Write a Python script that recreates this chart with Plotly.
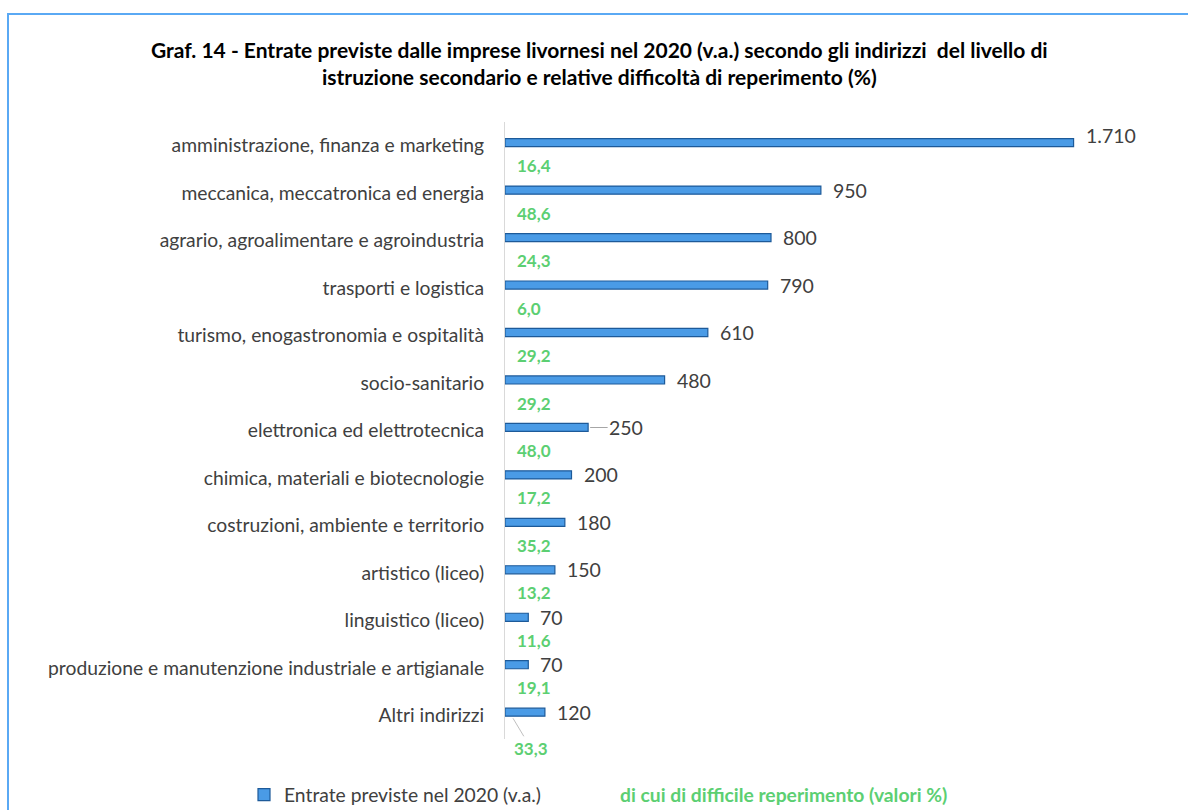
import plotly.graph_objects as go

categories = [
    "amministrazione, finanza e marketing",
    "meccanica, meccatronica ed energia",
    "agrario, agroalimentare e agroindustria",
    "trasporti e logistica",
    "turismo, enogastronomia e ospitalità",
    "socio-sanitario",
    "elettronica ed elettrotecnica",
    "chimica, materiali e biotecnologie",
    "costruzioni, ambiente e territorio",
    "artistico (liceo)",
    "linguistico (liceo)",
    "produzione e manutenzione industriale e artigianale",
    "Altri indirizzi",
]
entrate = [1710, 950, 800, 790, 610, 480, 250, 200, 180, 150, 70, 70, 120]
difficile_pct = [16.4, 48.6, 24.3, 6.0, 29.2, 29.2, 48.0, 17.2, 35.2, 13.2, 11.6, 19.1, 33.3]

series1_name = "Entrate previste nel 2020 (v.a.)"
series2_name = "di cui di difficile reperimento (valori %)"
title_text = ("<b>Graf. 14 - Entrate previste dalle imprese livornesi nel 2020 (v.a.) secondo gli indirizzi  del livello di<br>"
              "istruzione secondario e relative difficoltà di reperimento (%)</b>")

W, H = 1188, 810
L, R, T, B = 505, 18, 122, 71
PW, PH = W - L - R, H - T - B

def px_x(p):
    return (p - L) / PW

def px_y(p):
    return (H - B - p) / PH

FONT = "Lato"
GREY = "#404040"
GREEN = "#5ccf72"
BLUE = "#4a9be6"
BLUE_EDGE = "#1d5a99"

def fmt_int(v):
    return f"{v:,}".replace(",", ".")

def fmt_pct(v):
    return f"{v:.1f}".replace(".", ",")

n = len(categories)

fig = go.Figure()
fig.add_trace(go.Bar(
    y=categories, x=entrate, orientation="h", name=series1_name,
    marker=dict(color=BLUE, line=dict(color=BLUE_EDGE, width=1.2)),
    width=0.17, offset=-0.15, legend="legend", hoverinfo="x+y",
))
fig.add_trace(go.Bar(
    y=categories, x=difficile_pct, orientation="h", name=series2_name,
    marker=dict(color="rgba(0,0,0,0)", line=dict(width=0)),
    width=0.1, offset=0.38, legend="legend2", xaxis="x2",
))

ann = []
for i, (c, v) in enumerate(zip(categories, entrate)):
    if c == "elettronica ed elettrotecnica":
        ann.append(dict(x=v, y=c, xref="x", yref="y", text=fmt_int(v), showarrow=True,
                        arrowhead=0, arrowwidth=1, arrowcolor="#a6a6a6", ax=38, ay=0,
                        yshift=3, standoff=2, startstandoff=0, xanchor="center",
                        font=dict(family=FONT, size=19.5, color=GREY)))
    else:
        ann.append(dict(x=v, y=c, xref="x", yref="y", text=fmt_int(v), showarrow=False,
                        xanchor="left", xshift=10, yshift=10 if i == 0 else 3,
                        font=dict(family=FONT, size=19.5, color=GREY)))
for c, p in zip(categories, difficile_pct):
    if c == "Altri indirizzi":
        ann.append(dict(x=0, y=c, xref="x", yref="y", text="<b>" + fmt_pct(p) + "</b>",
                        showarrow=True, arrowhead=0, arrowwidth=1, arrowcolor="#bfbfbf",
                        ax=18, ay=30, xshift=8, yshift=-3, standoff=0,
                        font=dict(family=FONT, size=17, color=GREEN)))
    else:
        ann.append(dict(x=0, y=c, xref="x", yref="y", text="<b>" + fmt_pct(p) + "</b>",
                        showarrow=False, xanchor="left", xshift=10, yshift=-20,
                        font=dict(family=FONT, size=17, color=GREEN)))

ann.append(dict(x=px_x(599), y=px_y(63), xref="paper", yref="paper", text=title_text,
                showarrow=False, xanchor="center", yanchor="middle", align="center",
                font=dict(family=FONT, size=21, color="#000000")))

fig.update_layout(
    width=W, height=H,
    margin=dict(l=L, r=R, t=T, b=B, autoexpand=False),
    paper_bgcolor="white", plot_bgcolor="white",
    barmode="overlay",
    xaxis=dict(range=[0, 2000], visible=False, fixedrange=True),
    xaxis2=dict(range=[0, 2000], visible=False, overlaying="x"),
    yaxis=dict(categoryorder="array", categoryarray=categories,
               range=[n - 0.5, -0.5],
               showline=True, linecolor="#d9d9d9", linewidth=1, ticks="",
               showgrid=False, ticklabelstandoff=16,
               tickfont=dict(family=FONT, size=19.3, color=GREY)),
    annotations=ann,
    showlegend=True,
    legend=dict(x=px_x(244), y=px_y(795), xanchor="left", yanchor="middle",
                orientation="h", font=dict(family=FONT, size=19.3, color=GREY),
                bgcolor="rgba(0,0,0,0)"),
    legend2=dict(x=px_x(580), y=px_y(795), xanchor="left", yanchor="middle",
                 orientation="h", font=dict(family=FONT, size=19.3, color=GREEN, weight="bold"),
                 bgcolor="rgba(0,0,0,0)"),
    shapes=[dict(type="rect", xref="paper", yref="paper",
                 x0=px_x(8), x1=px_x(1210), y0=px_y(14), y1=px_y(830),
                 line=dict(color="#5aa9f4", width=2), fillcolor="rgba(0,0,0,0)", layer="below")],
)

fig.write_html("out.html")
